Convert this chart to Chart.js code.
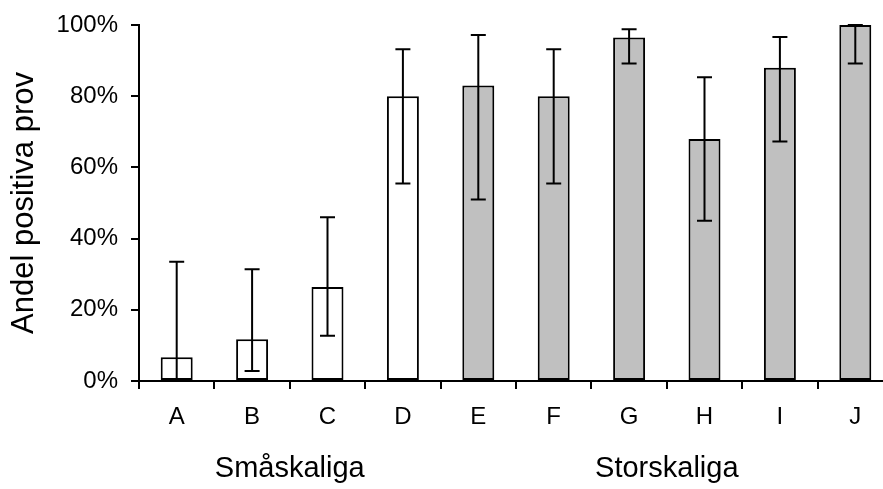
<!DOCTYPE html>
<html>
<head>
<meta charset="utf-8">
<script src="https://cdn.jsdelivr.net/npm/chart.js@4.4.1/dist/chart.umd.min.js"></script>
<style>
  html, body { margin: 0; padding: 0; background: #fff; overflow: hidden; }
  #wrap { position: relative; width: 893px; height: 489px; }
</style>
</head>
<body>
<div id="wrap"><canvas id="chart"></canvas></div>
<script>
// data (percent)
const categories  = ["A", "B", "C", "D", "E", "F", "G", "H", "I", "J"];
const shares      = [6.7, 11.7, 26.4, 80, 83, 80, 96.5, 68, 88, 100];
const lowerBounds = [0.5, 2.8, 12.7, 55.5, 51, 55.5, 89.2, 45, 67.3, 89.2];
const upperBounds = [33.5, 31.4, 46, 93.2, 97.2, 93.2, 98.8, 85.3, 96.6, 100];
const groupNames  = ["Småskaliga", "Storskaliga"];
const groupOf     = [0, 0, 0, 0, 1, 1, 1, 1, 1, 1];
const yTicks      = [0, 20, 40, 60, 80, 100];

const FONT = "'Liberation Sans', Arial, sans-serif";
const groupFill = ["#ffffff", "#c0c0c0"];

const errorBars = {
  id: "errorBars",
  afterDatasetsDraw(chart) {
    const { ctx, scales: { x, y } } = chart;
    const cap = 7.5;
    ctx.save();
    ctx.strokeStyle = "#000";
    ctx.lineWidth = 2;
    categories.forEach((c, i) => {
      const px = x.getPixelForValue(i);
      const top = y.getPixelForValue(upperBounds[i]);
      const bot = y.getPixelForValue(lowerBounds[i]);
      ctx.beginPath();
      ctx.moveTo(px, top);
      ctx.lineTo(px, bot);
      ctx.moveTo(px - cap, top);
      ctx.lineTo(px + cap, top);
      ctx.moveTo(px - cap, bot);
      ctx.lineTo(px + cap, bot);
      ctx.stroke();
    });
    ctx.restore();
  },
};

const groupLabels = {
  id: "groupLabels",
  afterDraw(chart) {
    const { ctx, chartArea, scales: { x } } = chart;
    ctx.save();
    ctx.fillStyle = "#000";
    ctx.font = "29px " + FONT;
    ctx.textAlign = "center";
    ctx.textBaseline = "middle";
    groupNames.forEach((name, g) => {
      const idx = groupOf.map((v, i) => (v === g ? i : -1)).filter((i) => i >= 0);
      const first = x.getPixelForValue(idx[0]);
      const last = x.getPixelForValue(idx[idx.length - 1]);
      ctx.fillText(name, (first + last) / 2, chartArea.bottom + 88);
    });
    ctx.restore();
  },
};

new Chart(document.getElementById("chart"), {
  type: "bar",
  data: {
    labels: categories,
    datasets: [
      {
        data: shares,
        backgroundColor: groupOf.map((g) => groupFill[g]),
        borderColor: "#000",
        borderWidth: 2,
        borderSkipped: false,
        barPercentage: 0.424,
        categoryPercentage: 1,
      },
    ],
  },
  options: {
    responsive: true,
    maintainAspectRatio: false,
    animation: false,
    events: [],
    layout: { padding: { top: 25, right: 0, bottom: 0, left: 0 } },
    plugins: {
      legend: { display: false },
      tooltip: { enabled: false },
    },
    scales: {
      x: {
        grid: {
          offset: true,
          drawOnChartArea: false,
          drawTicks: true,
          tickLength: 8,
          color: "#000",
          lineWidth: 2,
        },
        border: { color: "#000", width: 2 },
        ticks: {
          font: { family: FONT, size: 24 },
          color: "#000",
          padding: 14,
          maxRotation: 0,
        },
        afterFit: (scale) => { scale.height = 108; },
      },
      y: {
        min: 0,
        max: 100,
        afterBuildTicks: (scale) => { scale.ticks = yTicks.map((v) => ({ value: v })); },
        grid: {
          drawOnChartArea: false,
          drawTicks: true,
          tickLength: 8,
          color: "#000",
          lineWidth: 2,
        },
        border: { color: "#000", width: 2 },
        ticks: {
          font: { family: FONT, size: 24, lineHeight: 1 },
          color: "#000",
          padding: 13,
          callback: (v) => v + "%",
        },
        title: {
          display: true,
          text: "Andel positiva prov",
          font: { family: FONT, size: 31 },
          color: "#000",
          padding: { top: 6, bottom: 0 },
        },
        afterFit: (scale) => { scale.width = 139; },
      },
    },
  },
  plugins: [errorBars, groupLabels],
});
</script>
</body>
</html>
